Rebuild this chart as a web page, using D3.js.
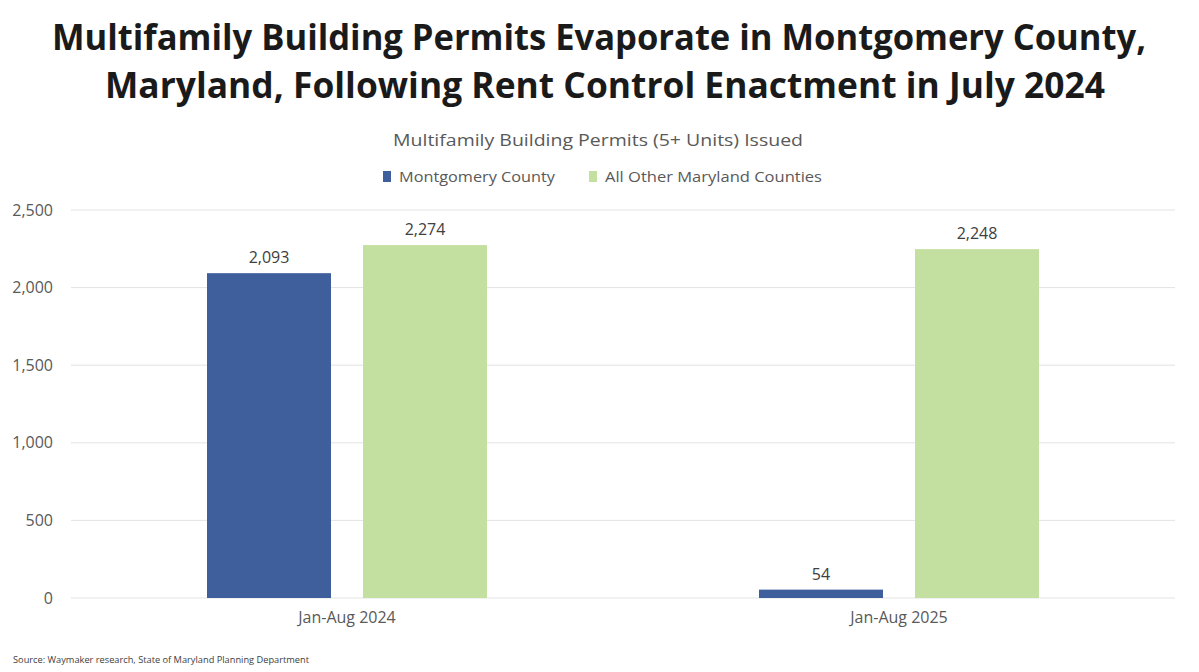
<!DOCTYPE html>
<html lang="en">
<head>
    <meta charset="UTF-8">
    <title>Multifamily Building Permits</title>
    <style>
    body { margin:0; background:#fff; }
    text { font-family: "Open Sans", sans-serif; }
    </style>
</head>
<body>
    <svg class="bar-chart"></svg>
</body>

<script src="https://cdn.jsdelivr.net/npm/d3@7"></script>

<script>

    var categories = ["Jan-Aug 2024", "Jan-Aug 2025"];
    var seriesNames = ["Montgomery County", "All Other Maryland Counties"];
    var montgomery = [2093, 54];
    var otherCounties = [2274, 2248];
    var yTicks = [0, 500, 1000, 1500, 2000, 2500];
    var colors = ["#3E5F9C", "#C3E0A1"];

    var svgWidth = 1199, svgHeight = 672;
    var plotLeft = 71, plotRight = 1175, plotTop = 210, plotBottom = 598;

    var svg = d3.select('svg')
        .attr('width', svgWidth)
        .attr('height', svgHeight);

    // titles
    svg.append("text").text("Multifamily Building Permits Evaporate in Montgomery County,")
        .attr("x", 599).attr("y", 50).attr("text-anchor", "middle")
        .attr("font-size", 36).attr("font-weight", "bold").attr("fill", "#1a1a1a")
        .attr("textLength", 1094).attr("lengthAdjust", "spacingAndGlyphs");
    svg.append("text").text("Maryland, Following Rent Control Enactment in July 2024")
        .attr("x", 605).attr("y", 98).attr("text-anchor", "middle")
        .attr("font-size", 36).attr("font-weight", "bold").attr("fill", "#1a1a1a")
        .attr("textLength", 1000).attr("lengthAdjust", "spacingAndGlyphs");

    svg.append("text").text("Multifamily Building Permits (5+ Units) Issued")
        .attr("x", 598).attr("y", 146).attr("text-anchor", "middle")
        .attr("font-size", 17).attr("fill", "#595959")
        .attr("textLength", 410).attr("lengthAdjust", "spacingAndGlyphs");

    // legend
    var legendX = [383, 589];
    var legendW = [156, 217];
    seriesNames.forEach(function (name, i) {
        svg.append("rect").attr("x", legendX[i]).attr("y", 171)
            .attr("width", 8).attr("height", 11).attr("fill", colors[i]);
        svg.append("text").text(name)
            .attr("x", legendX[i] + 16).attr("y", 182)
            .attr("font-size", 15).attr("fill", "#595959")
            .attr("textLength", legendW[i]).attr("lengthAdjust", "spacingAndGlyphs");
    });

    var yScale = d3.scaleLinear()
        .domain([0, 2500])
        .range([plotBottom, plotTop]);

    var x0 = d3.scaleBand()
        .domain(categories)
        .range([plotLeft, plotRight]);

    // bars 124 wide with a 32 gap inside each group
    var x1 = d3.scaleBand()
        .domain(seriesNames)
        .range([0, 280])
        .paddingInner(32 / 156);

    // gridlines
    svg.append("g").selectAll("line")
        .data(yTicks)
        .enter()
        .append("line")
        .attr("x1", plotLeft).attr("x2", plotRight)
        .attr("y1", function (d) { return yScale(d); })
        .attr("y2", function (d) { return yScale(d); })
        .attr("stroke", "#e3e3e3").attr("stroke-width", 1);

    var y_axis = d3.axisLeft(yScale)
        .tickValues(yTicks)
        .tickFormat(d3.format(","))
        .tickSize(0)
        .tickPadding(18);

    var yg = svg.append("g")
        .attr("transform", "translate(" + plotLeft + ",0)")
        .call(y_axis);
    yg.select(".domain").remove();
    yg.selectAll("text").attr("font-size", 16).attr("fill", "#595959")
        .attr("font-family", "Open Sans, sans-serif");

    var x_axis = d3.axisBottom(x0).tickSize(0).tickPadding(14);
    var xg = svg.append("g")
        .attr("transform", "translate(0," + plotBottom + ")")
        .call(x_axis);
    xg.select(".domain").remove();
    xg.selectAll("text").attr("font-size", 16).attr("fill", "#595959")
        .attr("font-family", "Open Sans, sans-serif");

    var rows = [];
    categories.forEach(function (c, i) {
        rows.push({ cat: c, series: seriesNames[0], value: montgomery[i], color: colors[0] });
        rows.push({ cat: c, series: seriesNames[1], value: otherCounties[i], color: colors[1] });
    });

    var groupOffset = (x0.bandwidth() - 280) / 2;

    svg.append("g").selectAll("rect")
        .data(rows)
        .enter()
        .append("rect")
        .attr("x", function (d) { return x0(d.cat) + groupOffset + x1(d.series); })
        .attr("y", function (d) { return yScale(d.value); })
        .attr("width", x1.bandwidth())
        .attr("height", function (d) { return plotBottom - yScale(d.value); })
        .attr("fill", function (d) { return d.color; });

    svg.append("g").selectAll("text")
        .data(rows)
        .enter()
        .append("text")
        .text(function (d) { return d3.format(",")(d.value); })
        .attr("x", function (d) { return x0(d.cat) + groupOffset + x1(d.series) + x1.bandwidth() / 2; })
        .attr("y", function (d) { return yScale(d.value) - 10; })
        .attr("text-anchor", "middle")
        .attr("font-size", 16).attr("fill", "#404040");

    svg.append("text").text("Source: Waymaker research, State of Maryland Planning Department")
        .attr("x", 13).attr("y", 663)
        .attr("font-size", 9.5).attr("fill", "#404040")
        .attr("textLength", 296).attr("lengthAdjust", "spacingAndGlyphs");

</script>
</html>
